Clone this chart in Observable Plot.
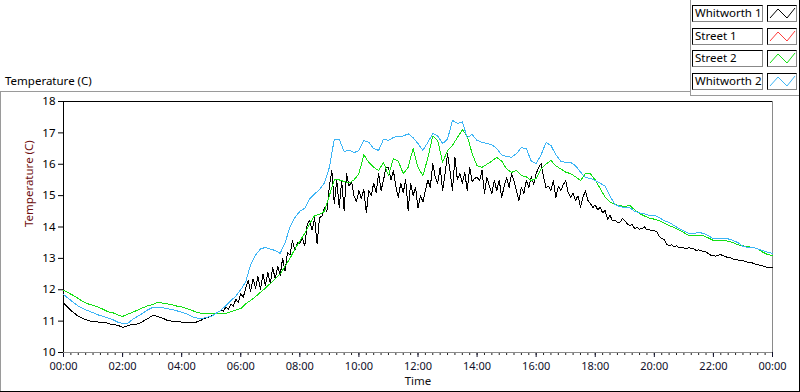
<!DOCTYPE html>
<html>
<head>
<meta charset="utf-8">
<script src="https://cdn.jsdelivr.net/npm/d3@7"></script>
<script src="https://cdn.jsdelivr.net/npm/@observablehq/plot@0.6"></script>
<style>
  html, body { margin: 0; padding: 0; background: #fff; }
  #wrap { position: relative; width: 800px; height: 392px; overflow: hidden; font-family: "Noto Sans", sans-serif; }
  .ln { position: absolute; }
  #title { position: absolute; left: 5px; top: 73px; font-size: 11.5px; color: #000; }
  #legend { position: absolute; left: 692px; top: 5px; }
  .row { position: relative; height: 15px; margin-bottom: 7.7px; }
  .name { position: absolute; left: 0; top: 0; border: 1px solid #000; border-right-color: #888; border-bottom-color: #888;
          font-size: 11.5px; line-height: 14px; padding-left: 2px; box-sizing: border-box; width: 71px; height: 17px; background: #fff; }
  .sw { position: absolute; left: 75px; top: 0; width: 30px; height: 17px; box-sizing: border-box; border: 1px solid #000; border-right-color: #888; border-bottom-color: #888; background: #fff; }
  #chart { position: absolute; left: 0; top: 93px; }
</style>
</head>
<body>
<div id="wrap">
  <div id="title">Temperature (C)</div>
  <div class="ln" style="left:0;top:91px;width:690px;height:1px;background:#9a9a9a"></div>
  <div class="ln" style="left:690px;top:0;width:1px;height:96px;background:#9a9a9a"></div>
  <div class="ln" style="left:690px;top:95px;width:110px;height:1px;background:#9a9a9a"></div>
  <div class="ln" style="left:0;top:91px;width:1px;height:301px;background:#9a9a9a"></div>
  <div class="ln" style="left:0;top:391px;width:800px;height:1px;background:#000"></div>
  <div class="ln" style="left:799px;top:0;width:1px;height:392px;background:#000"></div>
  <div id="legend"></div>
  <div id="chart"></div>
</div>
<script>
// ---------- data ----------
const seriesNames = ["Whitworth 1", "Street 1", "Street 2", "Whitworth 2"];
const seriesColors = ["#000000", "#ff3b3b", "#14e014", "#3cb4f5"];
const xTickLabels = ["00:00","02:00","04:00","06:00","08:00","10:00","12:00","14:00","16:00","18:00","20:00","22:00","00:00"];
const yTickValues = [10, 11, 12, 13, 14, 15, 16, 17, 18];

// Whitworth 1, one reading every 5 minutes from 00:00 to 24:00
const whitworth1 = [
  11.58, 11.5, 11.42, 11.34, 11.28, 11.22, 11.15, 11.12, 11.08, 11.05, 11.02, 11.0,
  10.98, 10.98, 10.97, 10.96, 10.96, 10.95, 10.93, 10.9, 10.9, 10.88, 10.86, 10.84,
  10.8, 10.82, 10.85, 10.88, 10.89, 10.9, 10.91, 10.93, 10.98, 11.03, 11.07, 11.12,
  11.17, 11.18, 11.15, 11.12, 11.1, 11.07, 11.03, 11.01, 11.0, 10.99, 10.98, 10.98,
  10.97, 10.96, 10.96, 10.95, 10.95, 10.96, 10.97, 11.0, 11.03, 11.08, 11.1, 11.13,
  11.17, 11.2, 11.24, 11.3, 11.35, 11.32, 11.45, 11.38, 11.55, 11.48, 11.7, 11.6,
  11.88, 11.75, 12.05, 12.3, 11.95, 12.35, 12.05, 12.42, 12.0, 12.5, 12.15, 12.55,
  12.2, 12.7, 12.35, 12.75, 12.45, 13.0, 12.6, 13.2, 13.1, 13.57, 13.25, 13.5,
  13.47, 13.65, 13.4, 14.1, 14.2, 13.9, 14.3, 13.47, 14.3, 14.35, 14.62, 14.5,
  15.3, 15.8, 14.75, 15.5, 14.62, 15.48, 14.53, 15.7, 15.3, 15.45, 15.0, 14.8,
  15.16, 14.9, 15.2, 14.45, 15.16, 15.0, 15.4, 15.1, 15.7, 15.16, 15.5, 15.9,
  15.9, 15.5, 15.8, 15.3, 14.94, 15.4, 15.1, 15.5, 14.53, 15.39, 15.0, 15.26,
  14.62, 15.0, 14.8, 15.16, 15.5, 15.26, 16.02, 15.6, 15.39, 15.9, 15.16, 15.7,
  16.34, 15.8, 15.16, 16.22, 15.5, 15.7, 15.39, 15.75, 15.16, 15.9, 15.45, 15.55,
  15.58, 15.48, 15.8, 15.07, 15.58, 15.3, 15.07, 15.48, 15.16, 15.5, 14.94, 15.3,
  15.58, 15.26, 15.7, 15.48, 15.16, 14.85, 15.26, 15.07, 15.48, 15.26, 15.6, 15.35,
  15.7, 15.9, 16.02, 15.58, 15.26, 15.3, 15.16, 15.48, 14.94, 15.3, 15.16, 15.35,
  15.48, 15.1, 14.94, 15.07, 14.85, 15.0, 14.62, 14.94, 15.16, 14.85, 14.75, 14.62,
  14.7, 14.55, 14.62, 14.45, 14.53, 14.25, 14.37, 14.2, 14.22, 14.15, 14.14, 14.27,
  14.2, 14.1, 14.05, 14.08, 13.95, 13.98, 13.93, 13.95, 14.0, 13.9, 13.92, 13.88,
  13.88, 13.85, 13.7, 13.63, 13.6, 13.45, 13.41, 13.43, 13.38, 13.4, 13.35, 13.36,
  13.33, 13.3, 13.35, 13.32, 13.3, 13.25, 13.27, 13.25, 13.22, 13.2, 13.15, 13.1,
  13.09, 13.07, 13.1, 13.12, 13.08, 13.05, 13.03, 13.02, 12.98, 12.96, 12.95, 12.93,
  12.93, 12.9, 12.88, 12.87, 12.85, 12.82, 12.8, 12.77, 12.76, 12.73, 12.71, 12.7,
  12.7
];

// Street 1: no trace visible in the chart
const street1 = [];

// Street 2, one reading every 10 minutes
const street2 = [
  11.98, 11.9, 11.82, 11.72, 11.62, 11.55,
  11.5, 11.45, 11.38, 11.3, 11.27, 11.2,
  11.15, 11.22, 11.28, 11.35, 11.42, 11.48,
  11.52, 11.6, 11.58, 11.55, 11.52, 11.48,
  11.45, 11.4, 11.35, 11.28, 11.25, 11.24,
  11.24, 11.24, 11.24, 11.25, 11.3, 11.35,
  11.4, 11.55, 11.66, 11.78, 11.92, 12.05,
  12.2, 12.35, 12.5, 12.75, 13.0, 13.3,
  13.55, 13.8, 14.1, 14.37, 14.4, 14.5,
  15.0, 15.5, 15.5, 15.45, 15.4, 15.5,
  15.7, 16.3, 16.06, 15.9, 15.8, 16.06,
  15.64, 16.18, 16.1, 15.7, 15.9, 16.5,
  15.9, 15.64, 16.2, 16.9, 16.76, 16.06,
  16.44, 16.6, 16.85, 17.1, 16.9, 16.34,
  15.95, 15.9, 16.0, 16.1, 16.22, 16.1,
  15.85, 15.74, 15.8, 15.64, 15.6, 15.48,
  15.55, 15.85, 16.0, 16.12, 15.95, 15.85,
  15.75, 15.7, 15.6, 15.48, 15.7, 15.7,
  15.5, 15.23, 14.95, 14.8, 14.72, 14.68,
  14.65, 14.69, 14.55, 14.43, 14.35, 14.28,
  14.25, 14.2, 14.12, 14.05, 13.98, 13.9,
  13.82, 13.73, 13.73, 13.73, 13.72, 13.65,
  13.57, 13.57, 13.57, 13.55, 13.5, 13.43,
  13.4, 13.37, 13.35, 13.3, 13.2, 13.12,
  13.09
];

// Whitworth 2, one reading every 10 minutes
const whitworth2 = [
  11.85, 11.72, 11.6, 11.48, 11.4, 11.33,
  11.27, 11.2, 11.15, 11.1, 11.05, 10.97,
  10.92, 10.92, 11.05, 11.15, 11.24, 11.35,
  11.43, 11.43, 11.43, 11.4, 11.37, 11.33,
  11.28, 11.24, 11.15, 11.1, 11.08, 11.12,
  11.15, 11.25, 11.35, 11.5, 11.65, 11.8,
  12.0, 12.25, 12.8, 13.1, 13.3, 13.35,
  13.3, 13.25, 13.16, 13.5, 14.0, 14.3,
  14.5, 14.6, 14.9, 15.05, 15.2, 15.4,
  15.9, 16.8, 16.8, 16.4, 16.45, 16.37,
  16.44, 16.75, 16.7, 16.5, 16.44, 16.8,
  16.76, 16.85, 16.9, 16.9, 16.97, 16.85,
  16.66, 16.44, 16.7, 16.98, 16.9, 16.66,
  16.8, 17.4, 17.3, 17.35, 16.85, 16.95,
  16.76, 16.7, 16.66, 16.62, 16.5, 16.3,
  16.25, 16.22, 16.34, 16.53, 16.5, 16.1,
  16.02, 16.3, 16.69, 16.6, 16.3, 16.1,
  16.06, 16.06, 15.95, 15.75, 15.58, 15.55,
  15.48, 15.4, 15.3, 14.98, 14.72, 14.65,
  14.62, 14.62, 14.5, 14.45, 14.42, 14.37,
  14.37, 14.3, 14.2, 14.15, 14.05, 13.95,
  13.87, 13.8, 13.8, 13.82, 13.8, 13.72,
  13.63, 13.63, 13.63, 13.62, 13.57, 13.5,
  13.38, 13.35, 13.35, 13.3, 13.25, 13.2,
  13.16
];

// ---------- build table ----------
const toRows = (arr, stepMin) => arr.map((t, i) => ({min: i * stepMin, temp: t}));
const seriesData = [toRows(whitworth1, 5), toRows(street1, 10), toRows(street2, 10), toRows(whitworth2, 10)];

const majorTicks = xTickLabels.map((_, i) => i * 120);
const minorTicks = d3.range(0, 1441, 15);

const FONT = '"Noto Sans", sans-serif';

const chart = Plot.plot({
  width: 800,
  height: 299,
  marginTop: 8,
  marginLeft: 63,
  marginRight: 28,
  marginBottom: 40,
  style: {fontFamily: FONT, fontSize: "11px", background: "transparent", color: "#000"},
  x: {domain: [0, 1440]},
  y: {domain: [10, 18]},
  marks: [
    Plot.axisX(minorTicks, {tickSize: 3, tickFormat: () => "", stroke: "#222", label: null}),
    Plot.axisX(majorTicks, {tickSize: 5, tickPadding: 5, tickFormat: (d, i) => xTickLabels[i], color: "#10102a", fontSize: 11, label: null}),
    Plot.axisY(yTickValues, {tickSize: 5, tickPadding: 3, color: "#000", fontSize: 11.5, label: null}),
    Plot.ruleY([10], {stroke: "#8a8a8a"}),
    Plot.ruleX([1440], {stroke: "#8a8a8a"}),
    Plot.ruleY([18], {stroke: "#000"}),
    Plot.ruleX([0], {stroke: "#000"}),
    ...seriesData.map((rows, k) => Plot.line(rows, {x: "min", y: "temp", stroke: seriesColors[k], strokeWidth: 1, curve: "linear", shapeRendering: "crispEdges"})),
    Plot.text(["Time"], {frameAnchor: "bottom", dy: 32, fontSize: 11.5, fill: "#111"}),
    Plot.text(["Temperature (C)"], {frameAnchor: "left", dx: -34, rotate: -90, fontSize: 11.5, fill: "#6e0e0e"})
  ]
});
document.getElementById("chart").appendChild(chart);

// ---------- legend ----------
const legend = document.getElementById("legend");
seriesNames.forEach((name, k) => {
  const row = document.createElement("div");
  row.className = "row";
  const n = document.createElement("div");
  n.className = "name";
  n.textContent = name;
  const sw = document.createElement("div");
  sw.className = "sw";
  sw.innerHTML = `<svg width="28" height="15" style="display:block"><polyline points="2,12 10,3 19,12 27,2" fill="none" stroke="${seriesColors[k]}" stroke-width="1"/></svg>`;
  row.appendChild(n);
  row.appendChild(sw);
  legend.appendChild(row);
});
</script>
</body>
</html>
